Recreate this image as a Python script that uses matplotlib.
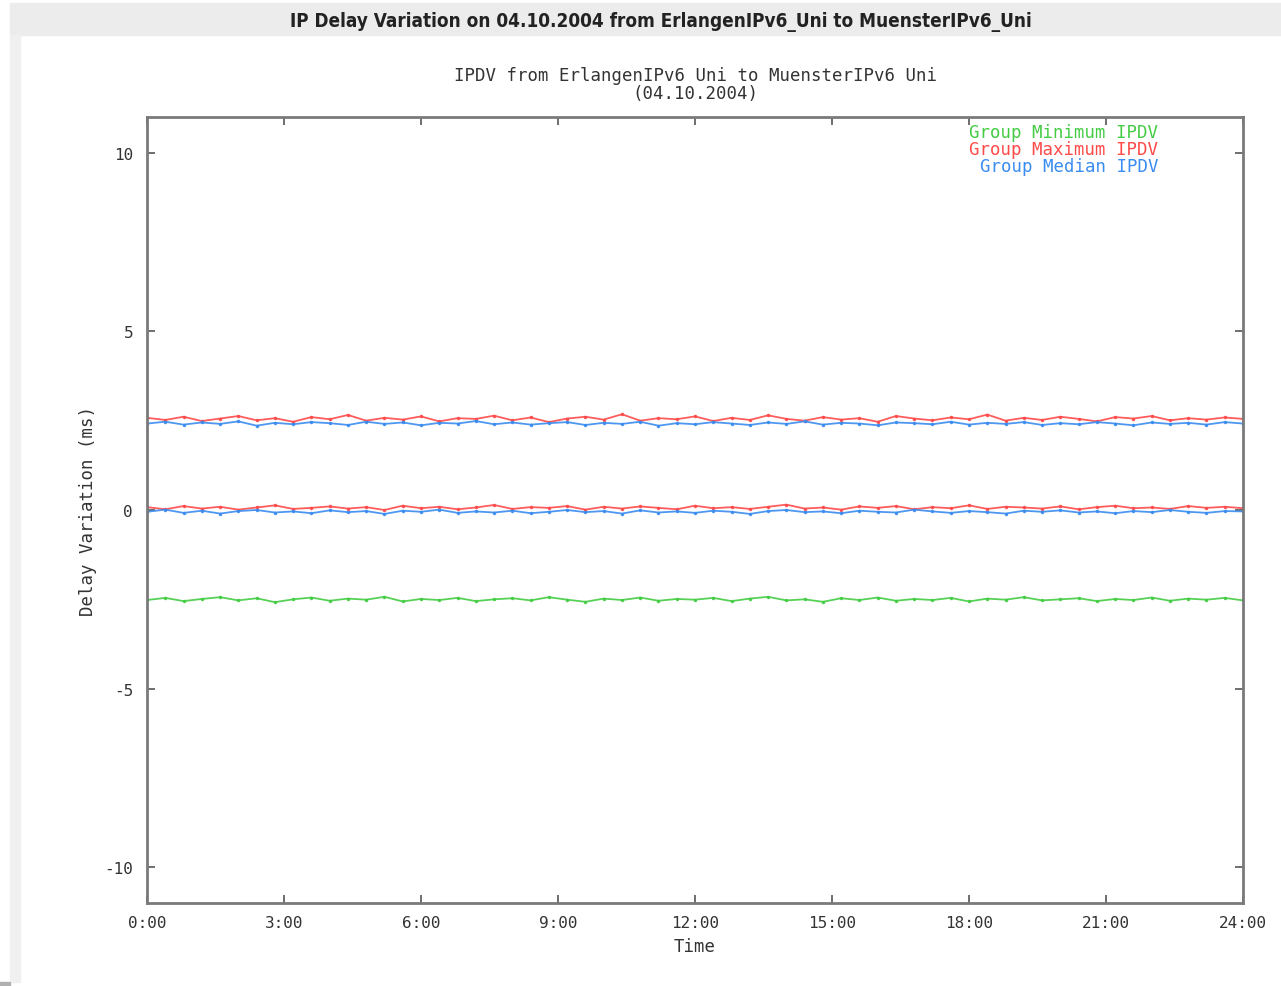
import numpy as np
import matplotlib.pyplot as plt
from matplotlib.patches import Rectangle

plt.rcParams['axes.unicode_minus'] = False

# samples every 24 min over the day (hours)
hours = np.linspace(0, 24, 61)

max_hi = [2.58, 2.52, 2.61, 2.49, 2.56, 2.63, 2.51, 2.57, 2.47, 2.60,
          2.54, 2.66, 2.50, 2.58, 2.53, 2.62, 2.48, 2.57, 2.55, 2.64,
          2.51, 2.59, 2.46, 2.56, 2.61, 2.53, 2.68, 2.50, 2.57, 2.54,
          2.62, 2.49, 2.58, 2.52, 2.65, 2.55, 2.50, 2.60, 2.53, 2.57,
          2.47, 2.63, 2.56, 2.51, 2.59, 2.54, 2.67, 2.50, 2.58, 2.52,
          2.61, 2.55, 2.48, 2.60, 2.56, 2.63, 2.51, 2.57, 2.53, 2.59,
          2.55]
med_hi = [2.42, 2.47, 2.39, 2.45, 2.41, 2.48, 2.36, 2.44, 2.40, 2.46,
          2.43, 2.38, 2.47, 2.41, 2.45, 2.37, 2.44, 2.42, 2.49, 2.40,
          2.45, 2.39, 2.43, 2.46, 2.38, 2.44, 2.41, 2.47, 2.36, 2.43,
          2.40, 2.46, 2.42, 2.38, 2.45, 2.41, 2.48, 2.39, 2.44, 2.42,
          2.37, 2.45, 2.43, 2.40, 2.47, 2.39, 2.44, 2.41, 2.46, 2.38,
          2.43, 2.40, 2.46, 2.42, 2.37, 2.45, 2.41, 2.44, 2.39, 2.46,
          2.42]
max_lo = [0.08, 0.02, 0.11, 0.04, 0.09, 0.01, 0.07, 0.13, 0.03, 0.06,
          0.10, 0.04, 0.08, 0.00, 0.12, 0.05, 0.09, 0.02, 0.07, 0.14,
          0.03, 0.08, 0.06, 0.11, 0.01, 0.09, 0.04, 0.10, 0.06, 0.02,
          0.12, 0.05, 0.08, 0.03, 0.09, 0.15, 0.04, 0.07, 0.01, 0.10,
          0.06, 0.11, 0.02, 0.08, 0.05, 0.13, 0.03, 0.09, 0.07, 0.04,
          0.10, 0.02, 0.08, 0.12, 0.05, 0.07, 0.03, 0.11, 0.06, 0.09,
          0.05]
med_lo = [-0.05, 0.01, -0.08, -0.02, -0.10, -0.03, 0.00, -0.07, -0.04, -0.09,
          -0.01, -0.06, -0.03, -0.11, -0.02, -0.05, 0.01, -0.08, -0.04, -0.07,
          -0.02, -0.09, -0.05, 0.00, -0.06, -0.03, -0.10, -0.01, -0.07, -0.04,
          -0.08, -0.02, -0.05, -0.11, -0.03, 0.00, -0.06, -0.04, -0.09, -0.02,
          -0.05, -0.07, 0.01, -0.04, -0.08, -0.03, -0.06, -0.10, -0.02, -0.05,
          -0.01, -0.07, -0.04, -0.09, -0.03, -0.06, 0.00, -0.05, -0.08, -0.03,
          -0.04]
min_lo = [-2.52, -2.46, -2.55, -2.49, -2.44, -2.53, -2.47, -2.58, -2.50, -2.45,
          -2.54, -2.48, -2.51, -2.43, -2.56, -2.49, -2.52, -2.46, -2.55, -2.50,
          -2.47, -2.53, -2.44, -2.51, -2.57, -2.48, -2.52, -2.45, -2.54, -2.49,
          -2.51, -2.46, -2.55, -2.48, -2.43, -2.53, -2.50, -2.57, -2.47, -2.52,
          -2.45, -2.54, -2.49, -2.52, -2.46, -2.56, -2.48, -2.51, -2.44, -2.53,
          -2.50, -2.47, -2.55, -2.49, -2.52, -2.45, -2.54, -2.48, -2.51, -2.46,
          -2.53]

xticks = [0, 3, 6, 9, 12, 15, 18, 21, 24]
xlabels = ['0:00', '3:00', '6:00', '9:00', '12:00', '15:00', '18:00', '21:00', '24:00']
yticks = [-10, -5, 0, 5, 10]

green = '#44cc44'
red = '#ff4a4a'
blue = '#3a8cf0'
mono = 'DejaVu Sans Mono'
txt = '#333333'

fig = plt.figure(figsize=(12.81, 9.87), dpi=100)
W, H = 1281, 987
# grey page frame like the web page around the image
fig.patches.append(Rectangle((10 / W, 1 - 36 / H), 1 - 10 / W, 32 / H,
                             transform=fig.transFigure, color='#ececec', zorder=0))
fig.patches.append(Rectangle((10 / W, 4 / H), 10 / W, 1 - 40 / H,
                             transform=fig.transFigure, color='#f0f0f0', zorder=0))
fig.patches.append(Rectangle((0, 0), 10 / W, 4 / H,
                             transform=fig.transFigure, color='#b0b0b0', zorder=0))

title = fig.text(661 / W, 1 - 22 / H,
                 'IP Delay Variation on 04.10.2004 from ErlangenIPv6_Uni to MuensterIPv6_Uni',
                 ha='center', va='center', fontsize=15, fontweight='bold',
                 fontstretch='condensed', family='DejaVu Sans', color='#222222')
# squeeze to the width of the original banner title
fig.canvas.draw()
tw = title.get_window_extent().width
title.set_fontsize(15 * 744 / tw)

ax = fig.add_axes([147 / W, 1 - 904 / H, (1243 - 147) / W, (904 - 118) / H])

lw = 1.3
ax.plot(hours, max_hi, '-', color=red, lw=lw, marker='.', ms=3, alpha=0.9)
ax.plot(hours, med_hi, '-', color=blue, lw=lw, marker='.', ms=3, alpha=0.9)
ax.plot(hours, max_lo, '-', color=red, lw=lw, marker='.', ms=3, alpha=0.9)
ax.plot(hours, med_lo, '-', color=blue, lw=lw, marker='.', ms=3, alpha=0.9)
ax.plot(hours, min_lo, '-', color=green, lw=lw, marker='.', ms=3, alpha=0.9)

ax.set_xlim(0, 24)
ax.set_ylim(-11, 11)
ax.set_xticks(xticks)
ax.set_xticklabels(xlabels)
ax.set_yticks(yticks)
ax.tick_params(direction='in', length=6, width=1.2, color='#555555',
               top=True, right=True, labelsize=11.5, labelcolor=txt)
ax.tick_params(axis='x', pad=9)
ax.tick_params(axis='y', pad=10)
for lab in ax.get_xticklabels() + ax.get_yticklabels():
    lab.set_family(mono)
for s in ax.spines.values():
    s.set_color('#7a7a7a')
    s.set_linewidth(2)

ax.set_xlabel('Time', family=mono, fontsize=12.5, color=txt, labelpad=5)
ax.set_ylabel('Delay Variation (ms)', family=mono, fontsize=12.5, color=txt, labelpad=5)
ax.set_title('IPDV from ErlangenIPv6 Uni to MuensterIPv6 Uni\n(04.10.2004)',
             family=mono, fontsize=12.5, color=txt, pad=14, linespacing=0.95)

# gnuplot-style key: coloured text, right aligned
ax.text(1158 / W, 1 - 133 / H, 'Group Minimum IPDV', transform=fig.transFigure,
        ha='right', va='center', family=mono, fontsize=12.5, color=green)
ax.text(1158 / W, 1 - 150 / H, 'Group Maximum IPDV', transform=fig.transFigure,
        ha='right', va='center', family=mono, fontsize=12.5, color=red)
ax.text(1158 / W, 1 - 167 / H, 'Group Median IPDV', transform=fig.transFigure,
        ha='right', va='center', family=mono, fontsize=12.5, color=blue)

fig.savefig('out.png', dpi=100)
